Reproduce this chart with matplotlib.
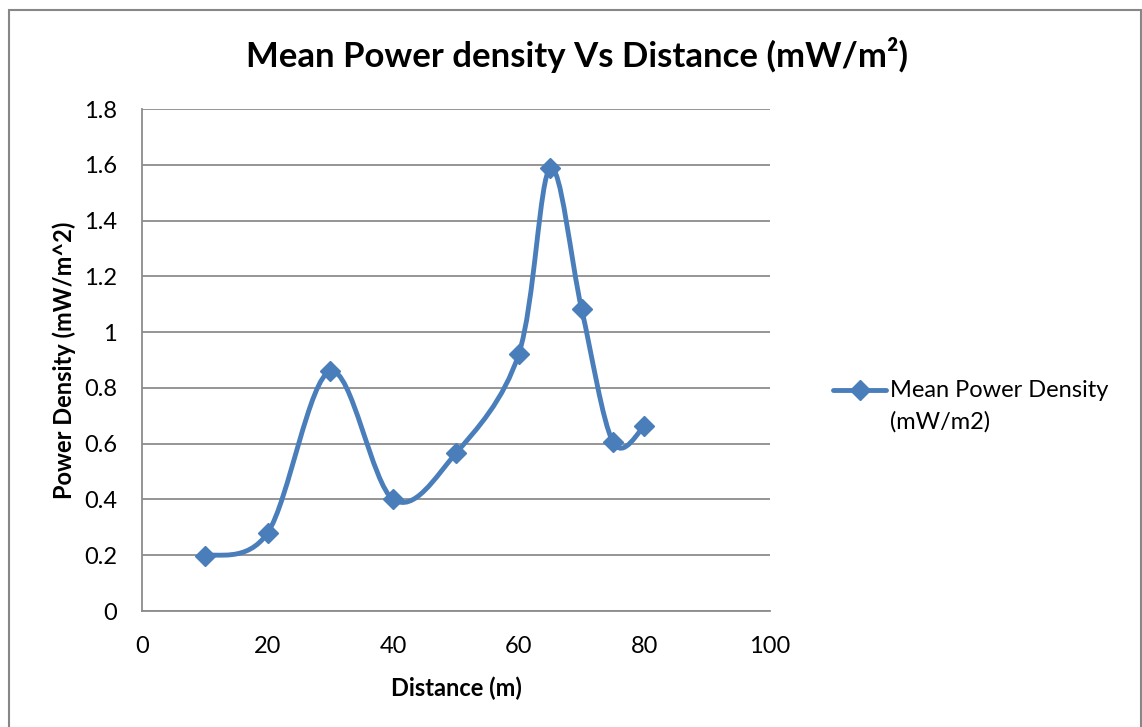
import matplotlib.pyplot as plt
import numpy as np
from matplotlib.path import Path
from matplotlib.patches import PathPatch, Rectangle
from matplotlib.lines import Line2D

distance = [10, 20, 30, 40, 50, 60, 65, 70, 75, 80]
power = [0.197, 0.28, 0.86, 0.40, 0.566, 0.922, 1.588, 1.083, 0.606, 0.662]
y_ticks = [0, 0.2, 0.4, 0.6, 0.8, 1, 1.2, 1.4, 1.6, 1.8]
y_labels = ['0', '0.2', '0.4', '0.6', '0.8', '1', '1.2', '1.4', '1.6', '1.8']
x_ticks = [0, 20, 40, 60, 80, 100]

plt.rcParams['font.family'] = ['Lato', 'DejaVu Sans']
blue = '#4a7ebb'
grid = '#8c8c8c'

fig = plt.figure(figsize=(11.42, 7.27), dpi=100)
ax = fig.add_axes([142 / 1142, 1 - 611 / 727, (770 - 142) / 1142, (611 - 109) / 727])

# smoothed line (Excel style bezier through the points)
pts = np.column_stack([distance, power])
ext = np.vstack([pts[0], pts, pts[-1]])
verts = [pts[0]]
codes = [Path.MOVETO]
for i in range(len(pts) - 1):
    p0, p1, p2, p3 = ext[i], ext[i + 1], ext[i + 2], ext[i + 3]
    verts += [p1 + (p2 - p0) / 6, p2 - (p3 - p1) / 6, p2]
    codes += [Path.CURVE4] * 3
ax.add_patch(PathPatch(Path(verts, codes), facecolor='none', edgecolor=blue,
                       lw=3.5, capstyle='round', joinstyle='round', zorder=3))
ax.plot(distance, power, ls='none', marker='D', ms=10, color=blue, zorder=4)

ax.set_xlim(0, 100)
ax.set_ylim(0, 1.8)
ax.set_xticks(x_ticks)
ax.set_yticks(y_ticks)
ax.set_yticklabels(y_labels)
ax.tick_params(length=0, labelsize=17)
ax.tick_params(axis='x', pad=18)
ax.tick_params(axis='y', pad=18)
ax.grid(axis='y', color=grid, lw=1.3)
ax.set_axisbelow(True)
for s in ['top', 'right']:
    ax.spines[s].set_visible(False)
for s in ['left', 'bottom']:
    ax.spines[s].set_color(grid)
    ax.spines[s].set_linewidth(1.3)

ax.set_xlabel('Distance (m)', fontsize=17, fontweight='bold', labelpad=14)
ax.set_ylabel('Power Density (mW/m^2)', fontsize=17, fontweight='bold', labelpad=6)

fig.text(577 / 1142, 1 - 55 / 727, 'Mean Power density Vs Distance (mW/m²)',
         ha='center', va='center', fontsize=25, fontweight='bold')

# legend, drawn by hand so the key sits on the first text line
ly = 1 - 390 / 727
fig.add_artist(Line2D([833 / 1142, 886 / 1142], [ly, ly], color=blue, lw=3.5,
                      solid_capstyle='round'))
fig.add_artist(Line2D([859.5 / 1142], [ly], color=blue, marker='D', ms=10))
fig.text(890 / 1142, 1 - 380 / 727, 'Mean Power Density\n(mW/m2)', ha='left',
         va='top', fontsize=17, linespacing=1.6)

fig.add_artist(Rectangle((9 / 1142, -0.01), (1141 - 9) / 1142, 1 - 10 / 727 + 0.01,
                         transform=fig.transFigure, fill=False, ec='#878787', lw=1.5))

fig.savefig('out.png', dpi=100)
